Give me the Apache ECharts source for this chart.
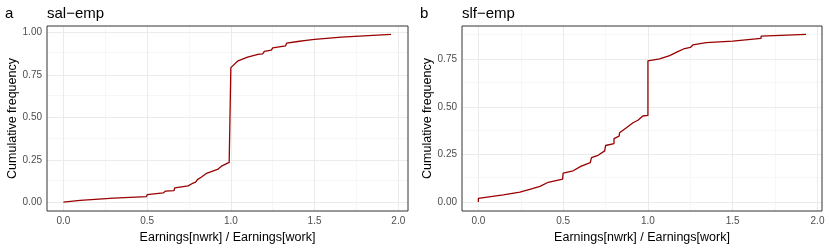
<!DOCTYPE html>
<html>
<head>
<meta charset="utf-8">
<script src="https://cdn.jsdelivr.net/npm/echarts@6/dist/echarts.min.js"></script>
<style>html,body{margin:0;padding:0;background:#fff}#c{width:830px;height:249px}</style>
</head>
<body>
<div id="c"></div>
<script>
// Panel a: sal−emp ECDF (x = Earnings ratio, y = cumulative frequency); repeated x = vertical jump
const salX = [0, 0, 0.1, 0.11, 0.3, 0.497, 0.5, 0.596, 0.61, 0.66, 0.665, 0.745, 0.775, 0.79, 0.8, 0.825, 0.855, 0.924, 0.944, 0.99, 1.0, 1.0, 1.043, 1.1, 1.162, 1.19, 1.2, 1.242, 1.25, 1.327, 1.333, 1.4, 1.45, 1.5, 1.5, 1.66, 1.667, 1.957];
const salY = [0.003, 0.01, 0.013, 0.02, 0.027, 0.035, 0.047, 0.057, 0.068, 0.07, 0.086, 0.098, 0.115, 0.12, 0.135, 0.15, 0.172, 0.197, 0.214, 0.236, 0.24, 0.792, 0.832, 0.853, 0.87, 0.872, 0.887, 0.895, 0.908, 0.92, 0.935, 0.945, 0.952, 0.957, 0.963, 0.971, 0.975, 0.987];
// Panel b: slf−emp ECDF
const slfX = [0, 0, 0.147, 0.245, 0.314, 0.363, 0.412, 0.497, 0.5, 0.559, 0.604, 0.66, 0.667, 0.667, 0.706, 0.745, 0.75, 0.75, 0.8, 0.8, 0.83, 0.833, 0.873, 0.912, 0.941, 0.97, 1.0, 1.0, 1.069, 1.128, 1.176, 1.21, 1.25, 1.265, 1.343, 1.5, 1.5, 1.667, 1.667, 1.932];
const slfY = [0.003, 0.022, 0.04, 0.054, 0.071, 0.085, 0.106, 0.123, 0.154, 0.166, 0.189, 0.209, 0.21, 0.235, 0.247, 0.27, 0.27, 0.298, 0.308, 0.334, 0.347, 0.365, 0.391, 0.417, 0.43, 0.452, 0.455, 0.74, 0.75, 0.767, 0.788, 0.802, 0.81, 0.823, 0.835, 0.843, 0.85, 0.857, 0.869, 0.878];

const xTicks = [0, 0.5, 1.0, 1.5, 2.0];
const xMinor = [0.25, 0.75, 1.25, 1.75];
const yTicksA = [0, 0.25, 0.5, 0.75, 1.0];
const yMinorA = [0.125, 0.375, 0.625, 0.875];
const yTicksB = [0, 0.25, 0.5, 0.75];
const yMinorB = [0.125, 0.375, 0.625, 0.875];

const panels = [
  {tag: 'a', title: 'sal\u2212emp', xs: salX, ys: salY, yT: yTicksA, yM: yMinorA,
   xr: [-0.098, 2.058], yr: [-0.049, 1.036], left: 47, width: 361},
  {tag: 'b', title: 'slf\u2212emp', xs: slfX, ys: slfY, yT: yTicksB, yM: yMinorB,
   xr: [-0.0965, 2.0265], yr: [-0.044, 0.922], left: 462, width: 360}
];

const FONT = 'Liberation Sans, Arial, sans-serif';
const option = {animation: false, backgroundColor: '#fff', title: [], grid: [], xAxis: [], yAxis: [], series: []};

panels.forEach((p, i) => {
  option.title.push({text: p.tag, left: p.left - 42, top: 6, padding: 0, textStyle: {fontFamily: FONT, fontSize: 15, fontWeight: 'normal', color: '#000'}});
  option.title.push({text: p.title, left: p.left, top: 6, padding: 0, textStyle: {fontFamily: FONT, fontSize: 15, fontWeight: 'normal', color: '#000'}});
  option.grid.push({left: p.left, top: 26, width: p.width, height: 186, show: true, z: 10,
    borderColor: '#333', borderWidth: 1, backgroundColor: 'transparent'});
  option.xAxis.push({type: 'value', gridIndex: i, min: p.xr[0], max: p.xr[1],
    name: 'Earnings[nwrk] / Earnings[work]', nameLocation: 'middle', nameGap: 20,
    nameTextStyle: {fontFamily: FONT, fontSize: 12.5, color: '#000'},
    axisLine: {show: false},
    axisTick: {show: true, length: 3, customValues: xTicks, lineStyle: {color: '#333'}},
    axisLabel: {customValues: xTicks, margin: 5, fontFamily: FONT, fontSize: 10, color: '#4D4D4D', formatter: v => v.toFixed(1)},
    splitLine: {show: false}});
  option.yAxis.push({type: 'value', gridIndex: i, min: p.yr[0], max: p.yr[1],
    name: 'Cumulative frequency', nameLocation: 'middle', nameGap: 28,
    nameTextStyle: {fontFamily: FONT, fontSize: 12.5, color: '#000'},
    axisLine: {show: false},
    axisTick: {show: true, length: 3, customValues: p.yT, lineStyle: {color: '#333'}},
    axisLabel: {customValues: p.yT, margin: 5, fontFamily: FONT, fontSize: 10, color: '#4D4D4D', formatter: v => v.toFixed(2)},
    splitLine: {show: false}});
  const gl = [];
  xMinor.forEach(v => gl.push({xAxis: v, lineStyle: {color: '#F2F2F2', width: 0.6}}));
  p.yM.forEach(v => gl.push({yAxis: v, lineStyle: {color: '#F2F2F2', width: 0.6}}));
  xTicks.forEach(v => gl.push({xAxis: v, lineStyle: {color: '#EBEBEB', width: 1}}));
  p.yT.forEach(v => gl.push({yAxis: v, lineStyle: {color: '#EBEBEB', width: 1}}));
  option.series.push({type: 'line', xAxisIndex: i, yAxisIndex: i, data: [], z: 1,
    markLine: {silent: true, symbol: 'none', z: 1, label: {show: false}, animation: false,
      lineStyle: {type: 'solid'}, data: gl}});
  option.series.push({type: 'line', xAxisIndex: i, yAxisIndex: i, showSymbol: false, symbol: 'none', z: 3,
    lineStyle: {color: '#990000', width: 1.3}, itemStyle: {color: '#990000'},
    data: p.xs.map((x, k) => [x, p.ys[k]])});
});

const chart = echarts.init(document.getElementById('c'), null, {renderer: 'canvas'});
chart.setOption(option);
</script>
</body>
</html>
